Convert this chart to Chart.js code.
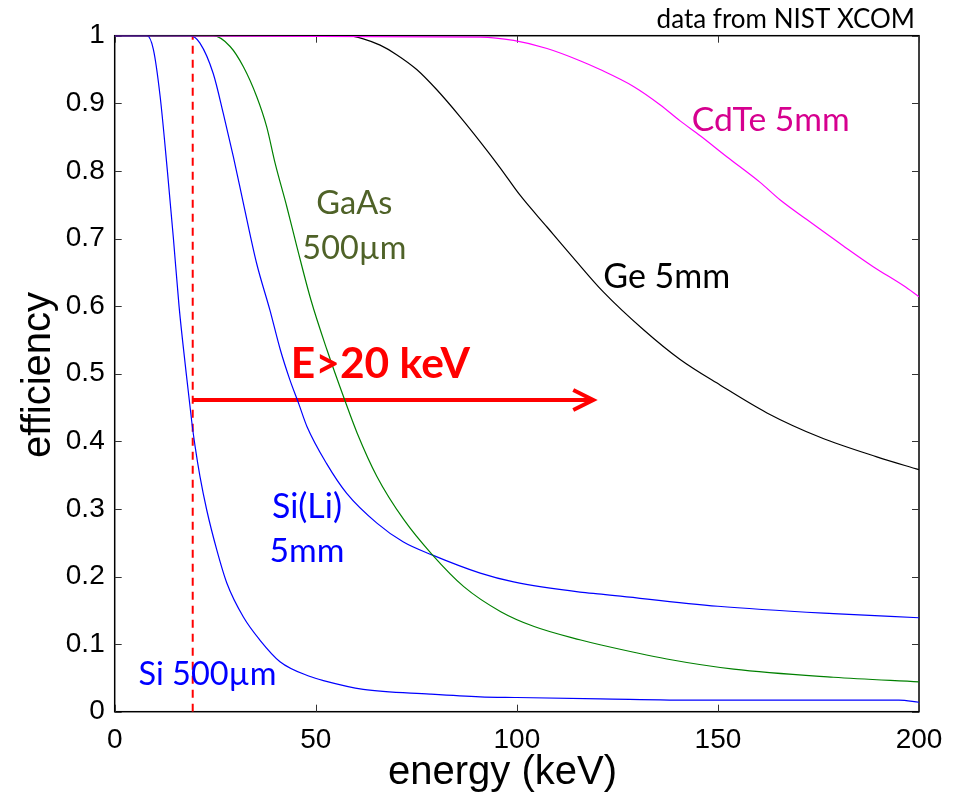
<!DOCTYPE html>
<html>
<head>
<meta charset="utf-8">
<script src="https://cdn.jsdelivr.net/npm/chart.js@4.4.1/dist/chart.umd.min.js"></script>
<style>
  html, body { margin: 0; padding: 0; background: #fff; }
  #wrap { width: 963px; height: 792px; }
</style>
</head>
<body>
<div id="wrap"><canvas id="effChart" width="963" height="792"></canvas></div>
<script>
// energy (keV) / efficiency pairs
const siE   = [0, 8, 9.6, 11.3, 13.1, 14.6, 16.0, 17.7, 19.2, 20.0, 21.2, 22.9, 25.4, 27.9, 32.0, 36.1, 41.1, 48.6, 51.9, 61.8, 78.4, 90.9, 100, 120.7, 145, 170, 195, 200];
const siEff = [1, 1, 0.98, 0.91, 0.80, 0.70, 0.60, 0.505, 0.427, 0.392, 0.348, 0.298, 0.239, 0.19, 0.14, 0.106, 0.074, 0.052, 0.046, 0.033, 0.026, 0.022, 0.021, 0.019, 0.017, 0.017, 0.017, 0.014];

const siliE   = [0, 18.7, 21.2, 24.5, 27, 29.5, 32, 35.3, 38.6, 41.2, 43.5, 45.8, 47.8, 52.7, 57.7, 65.2, 71.8, 78.9, 90.9, 99.2, 115.7, 121, 150, 178.7, 200];
const siliEff = [1, 1, 0.989, 0.944, 0.885, 0.821, 0.752, 0.663, 0.594, 0.535, 0.492, 0.455, 0.422, 0.367, 0.323, 0.279, 0.251, 0.232, 0.205, 0.192, 0.177, 0.174, 0.156, 0.145, 0.139];

const gaasE   = [0, 24.5, 28.7, 32, 35.3, 37.8, 39.9, 42.8, 45.3, 48.8, 52.8, 57.2, 60.3, 65.2, 71.9, 79, 86.8, 96, 104.3, 115.9, 120.7, 137.3, 153.9, 178.7, 200];
const gaasEff = [1, 1, 0.984, 0.954, 0.91, 0.865, 0.811, 0.747, 0.688, 0.609, 0.535, 0.461, 0.412, 0.348, 0.284, 0.232, 0.185, 0.148, 0.126, 0.106, 0.099, 0.078, 0.063, 0.051, 0.044];

const geE   = [0, 57.7, 62, 66, 70.1, 75.1, 80.1, 85.9, 90.9, 95.8, 100.8, 107.5, 114.1, 121.5, 131.5, 140.6, 150.6, 162.2, 175.4, 189.5, 200];
const geEff = [1, 1, 0.995, 0.986, 0.972, 0.950, 0.920, 0.88, 0.843, 0.805, 0.764, 0.717, 0.671, 0.621, 0.565, 0.521, 0.483, 0.442, 0.406, 0.377, 0.358];

const cdteE   = [0, 90.9, 99.2, 107.5, 115.7, 120.7, 129, 135.6, 140.6, 145.6, 152.2, 160.5, 165.5, 172.1, 181.2, 188.7, 196.2, 200];
const cdteEff = [1, 0.998, 0.993, 0.981, 0.963, 0.950, 0.925, 0.898, 0.874, 0.852, 0.821, 0.783, 0.757, 0.728, 0.689, 0.658, 0.630, 0.614];

const xTicks = [0, 50, 100, 150, 200];
const yTicks = [0, 0.1, 0.2, 0.3, 0.4, 0.5, 0.6, 0.7, 0.8, 0.9, 1];

const cutE = 19.4;      // dashed threshold line
const arrowE = [19.4, 119];
const arrowEff = 0.461;

function pts(xs, ys) {
    return xs.map((x, i) => ({ x: x, y: ys[i] }));
}

function curve(data, color) {
    return {
        data: data,
        borderColor: color,
        borderWidth: 1.2,
        pointRadius: 0,
        showLine: true,
        fill: false,
        cubicInterpolationMode: 'monotone'
    };
}

// text placed in data units
const labels = [
    { text: 'data from NIST XCOM', x: 199, y: 1.0118, w: 258, color: '#000', align: 'right' },
    { text: 'CdTe 5mm', x: 143.5, y: 0.8595, w: 158, color: '#d6008f', align: 'left' },
    { text: 'Ge 5mm', x: 121.5, y: 0.6263, w: 127, color: '#000', align: 'left' },
    { text: 'GaAs', x: 59.6, y: 0.7358, w: 76, color: '#4f6228', align: 'center' },
    { text: '500µm', x: 59.6, y: 0.6692, w: 104, color: '#4f6228', align: 'center' },
    { text: 'E>20 keV', x: 43.8, y: 0.4932, w: 179, color: '#ff0000', align: 'left', bold: true },
    { text: 'Si(Li)', x: 47.8, y: 0.2861, w: 70, color: '#0000ff', align: 'center' },
    { text: '5mm', x: 47.8, y: 0.2219, w: 75, color: '#0000ff', align: 'center' },
    { text: 'Si 500µm', x: 5.9, y: 0.0395, w: 138, color: '#0000ff', align: 'left' }
];

const frame = {
    id: 'frame',
    beforeDatasetsDraw(chart) {
        const ctx = chart.ctx;
        const a = chart.chartArea;
        const xs = chart.scales.x, ys = chart.scales.y;
        ctx.save();
        ctx.strokeStyle = '#000';
        ctx.lineWidth = 1.5;
        ctx.strokeRect(a.left, a.top, a.right - a.left, a.bottom - a.top);
        ctx.lineWidth = 1;
        ctx.strokeStyle = '#333';
        ctx.beginPath();
        xTicks.forEach(v => {
            const px = Math.round(xs.getPixelForValue(v)) + 0.5;
            ctx.moveTo(px, a.bottom); ctx.lineTo(px, a.bottom - 7);
            ctx.moveTo(px, a.top); ctx.lineTo(px, a.top + 7);
        });
        yTicks.forEach(v => {
            const py = Math.round(ys.getPixelForValue(v)) + 0.5;
            ctx.moveTo(a.left, py); ctx.lineTo(a.left + 7, py);
            ctx.moveTo(a.right, py); ctx.lineTo(a.right - 7, py);
        });
        ctx.stroke();
        ctx.restore();
    },
    afterDatasetsDraw(chart) {
        const ctx = chart.ctx;
        const xs = chart.scales.x, ys = chart.scales.y;
        ctx.save();

        // arrow head
        const tx = xs.getPixelForValue(arrowE[1]);
        const ty = ys.getPixelForValue(arrowEff);
        ctx.strokeStyle = '#ff0000';
        ctx.lineWidth = 4;
        ctx.beginPath();
        ctx.moveTo(tx - 20, ty - 10);
        ctx.lineTo(tx, ty);
        ctx.lineTo(tx - 20, ty + 10);
        ctx.stroke();

        // annotations, sized to the width seen in the picture
        ctx.textBaseline = 'alphabetic';
        labels.forEach(l => {
            const weight = l.bold ? 'bold ' : '';
            ctx.font = weight + '100px Lato';
            const size = 100 * l.w / ctx.measureText(l.text).width;
            ctx.font = weight + size.toFixed(1) + 'px Lato';
            ctx.fillStyle = l.color;
            ctx.textAlign = l.align;
            ctx.fillText(l.text, xs.getPixelForValue(l.x), ys.getPixelForValue(l.y));
        });

        // axis titles
        ctx.fillStyle = '#000';
        ctx.font = '40px "Liberation Sans", Arial, sans-serif';
        ctx.textAlign = 'right';
        ctx.fillText('energy (keV)', 617, 784);
        ctx.textAlign = 'center';
        ctx.translate(50, 375);
        ctx.rotate(-Math.PI / 2);
        ctx.fillText('efficiency', 0, 0);
        ctx.restore();
    }
};

const tickFont = { family: '"Liberation Sans", Arial, sans-serif', size: 28 };

new Chart(document.getElementById('effChart'), {
    type: 'scatter',
    data: {
        datasets: [
            curve(pts(cdteE, cdteEff), '#ff00ff'),
            curve(pts(geE, geEff), '#000000'),
            curve(pts(gaasE, gaasEff), '#008000'),
            curve(pts(siliE, siliEff), '#0000ff'),
            curve(pts(siE, siEff), '#0000ff'),
            {
                data: [{ x: cutE, y: 0 }, { x: cutE, y: 1 }],
                borderColor: '#ff0000',
                borderWidth: 2,
                borderDash: [8, 6],
                pointRadius: 0,
                showLine: true
            },
            {
                data: [{ x: arrowE[0], y: arrowEff }, { x: arrowE[1], y: arrowEff }],
                borderColor: '#ff0000',
                borderWidth: 4,
                pointRadius: 0,
                showLine: true
            }
        ]
    },
    options: {
        responsive: false,
        animation: false,
        layout: { padding: { top: 35.7, right: 44, left: 0, bottom: 0 } },
        plugins: {
            legend: { display: false },
            tooltip: { enabled: false }
        },
        scales: {
            x: {
                type: 'linear',
                min: 0,
                max: 200,
                afterFit: s => { s.height = 80.3; },
                afterBuildTicks: s => { s.ticks = xTicks.map(v => ({ value: v })); },
                grid: { display: false, drawTicks: false },
                border: { display: false },
                ticks: { font: tickFont, color: '#000', padding: 12, maxRotation: 0 }
            },
            y: {
                type: 'linear',
                min: 0,
                max: 1,
                afterFit: s => { s.width = 114.7; },
                afterBuildTicks: s => { s.ticks = yTicks.map(v => ({ value: v })); },
                grid: { display: false, drawTicks: false },
                border: { display: false },
                ticks: {
                    font: tickFont,
                    color: '#000',
                    padding: 10,
                    callback: v => String(Number(v.toFixed(1)))
                }
            }
        }
    },
    plugins: [frame]
});
</script>
</body>
</html>
